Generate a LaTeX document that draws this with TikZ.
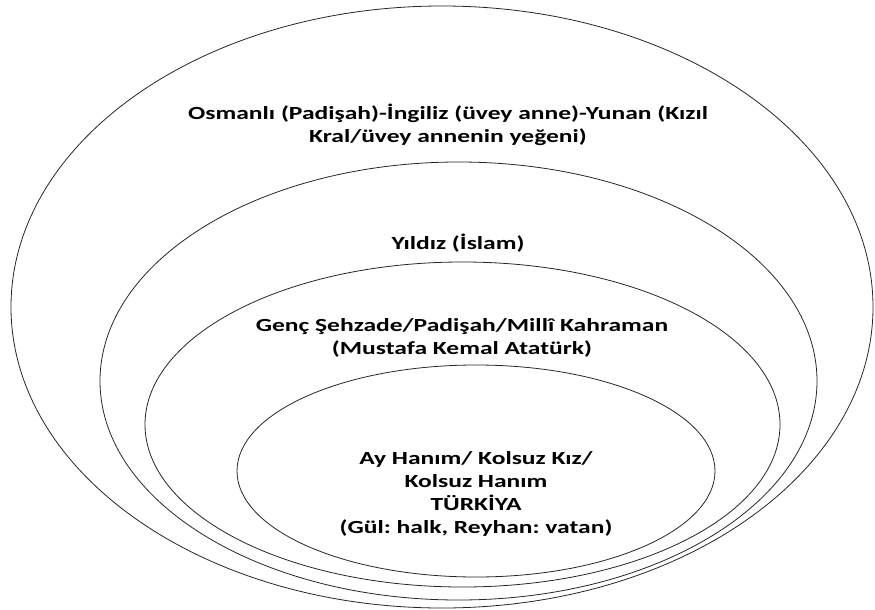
\documentclass[tikz,border=0pt]{standalone}
\usepackage{fontspec}
\setmainfont[FakeStretch=1.38]{Carlito}
\begin{document}
\frenchspacing
\begin{tikzpicture}[x=1pt,y=-1pt,
  ring/.style={draw=black!85,line width=0.8pt},
  lbl/.style={align=center,inner sep=0pt,font=\fontsize{18.5}{23}\selectfont\bfseries,text=black}]
\useasboundingbox (0,0) rectangle (875,610);
\draw[ring] (442,307) ellipse [x radius=431,y radius=301];
\draw[ring] (458.5,381) ellipse [x radius=358.5,y radius=219];
\draw[ring] (462.5,424.5) ellipse [x radius=317.5,y radius=162.5];
\draw[ring] (476,471) ellipse [x radius=239,y radius=106];
\node[lbl] (t1) at (448,124.5) {Osmanlı (Padişah)-İngiliz (üvey anne)-Yunan (Kızıl\\Kral/üvey annenin yeğeni)};
\node[lbl] (t2) at (458,243.5) {Yıldız (İslam)};
\node[lbl] (t3) at (462,337.5) {Genç Şehzade/Padişah/Millî Kahraman\\(Mustafa Kemal Atatürk)};
\node[lbl] (t4) at (476,493.5) {Ay Hanım/ Kolsuz Kız/\\Kolsuz Hanım\\TÜRKİYA\\(Gül: halk, Reyhan: vatan)};
\end{tikzpicture}
\end{document}
